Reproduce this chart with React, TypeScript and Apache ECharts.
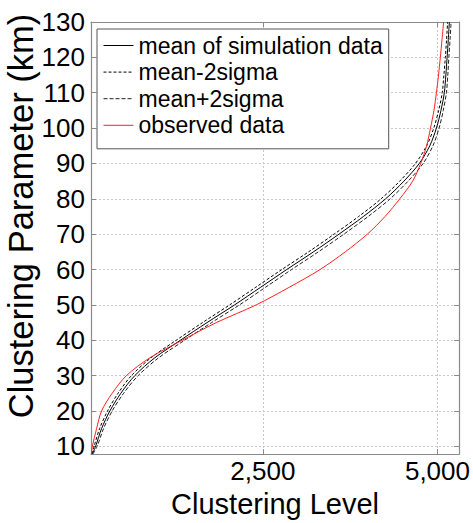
import React, { useEffect, useRef } from "react";
import * as echarts from "echarts";

const yVals = [7.8, 10, 15, 20, 25, 30, 35, 40, 45, 50, 55, 60, 65, 70, 75, 80, 85, 90, 95, 100, 105, 110, 115, 120, 125, 130];
const meanX = [58, 106, 191, 310, 467, 667, 951, 1320, 1702, 2096, 2470, 2842, 3225, 3590, 3940, 4258, 4520, 4740, 4890, 4985, 5050, 5098, 5120, 5138, 5155, 5170];
const lowerX = [50, 84, 163, 277, 427, 619, 896, 1260, 1637, 2026, 2400, 2772, 3155, 3520, 3872, 4193, 4460, 4685, 4845, 4947, 5017, 5068, 5092, 5113, 5130, 5145];
const upperX = [66, 128, 219, 343, 507, 715, 1006, 1380, 1767, 2166, 2540, 2912, 3295, 3660, 4008, 4323, 4580, 4795, 4935, 5023, 5083, 5128, 5148, 5163, 5180, 5195];
const observedX = [45, 60, 120, 191, 343, 547, 880, 1345, 1835, 2405, 2880, 3320, 3680, 3996, 4250, 4460, 4645, 4760, 4845, 4900, 4950, 4985, 5015, 5041, 5065, 5088];

const xTicks = [2500, 5000];
const yTicks = [10, 20, 30, 40, 50, 60, 70, 80, 90, 100, 110, 120, 130];
const seriesNames = ["mean of simulation data", "mean-2sigma", "mean+2sigma", "observed data"];

const FONT = "'Liberation Sans', Arial, Helvetica, sans-serif";

export default function App() {
  const ref = useRef<HTMLDivElement>(null);
  useEffect(() => {
    if (!ref.current) return;
    const chart = echarts.init(ref.current, null, { renderer: "svg" });
    const pairs = (xs: number[]) => xs.map((x, i) => [x, yVals[i]]);
    const axisLine = { show: true, lineStyle: { color: "#8a8a8a", width: 1.2 } };
    const xBase = { type: "value", min: 40, max: 5310 };
    const yBase = { type: "value", min: 7.8, max: 130 };
    chart.setOption({
      animation: false,
      textStyle: { fontFamily: FONT },
      grid: { left: 91, right: 12, top: 22, bottom: 63, containLabel: false },
      legend: {
        left: 97,
        top: 29,
        orient: "vertical",
        padding: [5, 6, 12, 6],
        itemGap: 3.6,
        itemWidth: 30,
        itemHeight: 14,
        borderColor: "#555",
        borderWidth: 1,
        backgroundColor: "#fff",
        itemStyle: { opacity: 0 },
        lineStyle: { width: 1 },
        textStyle: { fontSize: 23, color: "#000", fontFamily: FONT, padding: [0, 0, 0, 0] },
        data: seriesNames,
      },
      xAxis: [
        {
          ...xBase,
          position: "bottom",
          name: "Clustering Level",
          nameLocation: "middle",
          nameGap: 31,
          nameTextStyle: { fontSize: 29, color: "#000", fontFamily: FONT },
          axisLine,
          axisTick: { show: true, inside: true, length: 5, customValues: xTicks, lineStyle: { color: "#8a8a8a" } },
          axisLabel: {
            customValues: xTicks,
            fontSize: 26,
            color: "#000",
            margin: 4,
            fontFamily: FONT,
            formatter: (v: number) => v.toLocaleString("en-US"),
          },
          splitLine: { show: true, lineStyle: { color: "#c8c8c8", type: [2, 2], width: 1 } },
        },
        {
          ...xBase,
          position: "top",
          axisLine,
          axisTick: { show: true, inside: true, length: 5, customValues: xTicks, lineStyle: { color: "#8a8a8a" } },
          axisLabel: { show: false },
          splitLine: { show: false },
        },
      ],
      yAxis: [
        {
          ...yBase,
          position: "left",
          axisLine,
          axisTick: { show: true, inside: true, length: 5, customValues: yTicks, lineStyle: { color: "#8a8a8a" } },
          axisLabel: { customValues: yTicks, fontSize: 26, color: "#000", margin: 6, fontFamily: FONT },
          splitLine: { show: true, lineStyle: { color: "#c8c8c8", type: [2, 2], width: 1 } },
        },
        {
          ...yBase,
          position: "right",
          axisLine,
          axisTick: { show: true, inside: true, length: 5, customValues: yTicks, lineStyle: { color: "#8a8a8a" } },
          axisLabel: { show: false },
          splitLine: { show: false },
        },
      ],
      graphic: [
        {
          type: "text",
          x: 21,
          y: 216,
          rotation: Math.PI / 2,
          style: {
            text: "Clustering Parameter (km)",
            fontSize: 34.5,
            fontFamily: FONT,
            fill: "#000",
            align: "center",
            verticalAlign: "middle",
          },
        },
      ],
      series: [
        {
          name: seriesNames[0],
          type: "line",
          data: pairs(meanX),
          symbol: "none",
          smooth: 0.3,
          color: "#000",
          lineStyle: { color: "#000", width: 1 },
        },
        {
          name: seriesNames[1],
          type: "line",
          data: pairs(lowerX),
          symbol: "none",
          smooth: 0.3,
          color: "#000",
          lineStyle: { color: "#000", width: 1, type: [3, 2] },
        },
        {
          name: seriesNames[2],
          type: "line",
          data: pairs(upperX),
          symbol: "none",
          smooth: 0.3,
          color: "#222",
          lineStyle: { color: "#222", width: 1, type: [4, 2] },
        },
        {
          name: seriesNames[3],
          type: "line",
          data: pairs(observedX),
          symbol: "none",
          smooth: 0.3,
          color: "#ff2020",
          lineStyle: { color: "#ff2020", width: 1 },
        },
      ],
    });
    return () => chart.dispose();
  }, []);
  return (
    <div
      ref={ref}
      style={{ position: "fixed", left: 0, top: 0, width: 473, height: 523, background: "#fff" }}
    />
  );
}
